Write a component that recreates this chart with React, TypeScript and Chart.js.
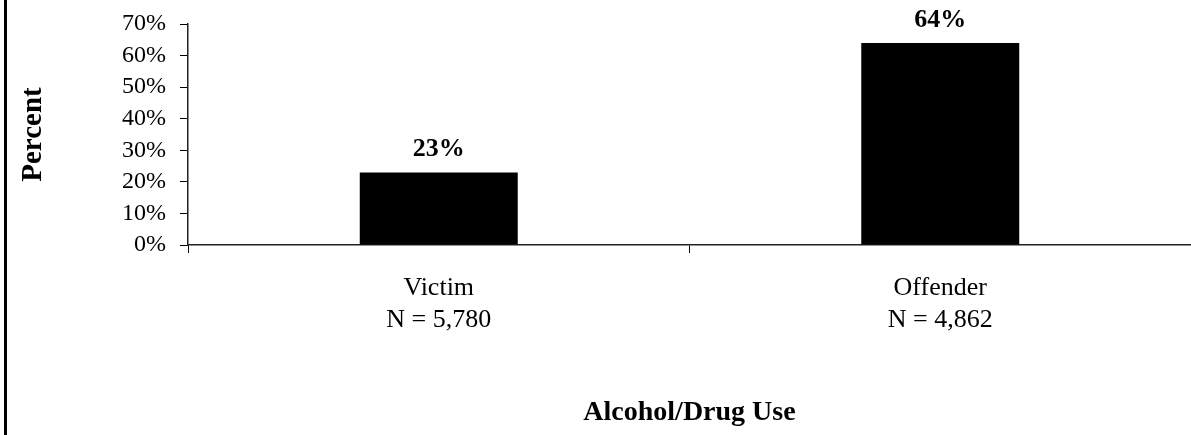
import React, { useEffect, useRef } from "react";
import { Chart, registerables } from "chart.js";

Chart.register(...registerables);

const categories: string[][] = [["Victim", "N = 5,780"], ["Offender", "N = 4,862"]];
const percentValues: number[] = [23, 64];
const yTickMax = 70;
const yTickStep = 10;
const yAxisTitle = "Percent";
const xAxisTitle = "Alcohol/Drug Use";

const FONT = "'Liberation Serif', 'Times New Roman', serif";

const valueLabels = {
  id: "valueLabels",
  afterDatasetsDraw(chart: any) {
    const ctx = chart.ctx;
    const meta = chart.getDatasetMeta(0);
    ctx.save();
    ctx.font = `bold 26px ${FONT}`;
    ctx.fillStyle = "#000";
    ctx.textAlign = "center";
    ctx.textBaseline = "alphabetic";
    meta.data.forEach((bar: any, i: number) => {
      ctx.fillText(`${percentValues[i]}%`, bar.x, bar.y - 16);
    });
    ctx.restore();
  },
};

export default function App() {
  const ref = useRef<HTMLCanvasElement>(null);
  useEffect(() => {
    document.body.style.margin = "0";
    const chart = new Chart(ref.current!, {
      type: "bar",
      data: {
        labels: categories,
        datasets: [
          {
            data: percentValues,
            backgroundColor: "#000",
            borderColor: "#333",
            borderWidth: 0,
            categoryPercentage: 1,
            barPercentage: 0.315,
          },
        ],
      },
      options: {
        animation: false,
        responsive: false,
        maintainAspectRatio: false,
        layout: { padding: { top: 0, right: 0, bottom: 0, left: 0 } },
        plugins: { legend: { display: false }, tooltip: { enabled: false } },
        scales: {
          x: {
            grid: {
              offset: true,
              drawOnChartArea: false,
              drawTicks: true,
              tickLength: 8,
              color: "#000",
            },
            border: { display: true, color: "#222", width: 1.5 },
            ticks: {
              color: "#000",
              font: { family: FONT, size: 26, lineHeight: 1.23 },
              padding: 19,
              maxRotation: 0,
              autoSkip: false,
            },
            title: {
              display: true,
              text: xAxisTitle,
              color: "#000",
              font: { family: FONT, size: 28, weight: "bold" },
              padding: { top: 0, bottom: 5 },
            },
            afterFit(scale: any) {
              scale.height = 190;
            },
          },
          y: {
            min: 0,
            max: yTickMax,
            grid: {
              drawOnChartArea: false,
              drawTicks: true,
              tickLength: 8,
              color: "#000",
            },
            border: { display: true, color: "#222", width: 1.5 },
            ticks: {
              stepSize: yTickStep,
              autoSkip: false,
              color: "#000",
              font: { family: FONT, size: 24, lineHeight: 1.2 },
              padding: 14,
              callback: (v: any) => `${v}%`,
            },
            title: {
              display: true,
              text: yAxisTitle,
              color: "#000",
              font: { family: FONT, size: 29, weight: "bold" },
              padding: { top: 16, bottom: 0 },
            },
            afterFit(scale: any) {
              scale.width = 188;
              scale.paddingTop = 24;
            },
          },
        },
      },
      plugins: [valueLabels],
    });
    return () => chart.destroy();
  }, []);
  return (
    <div style={{ position: "relative", width: 1191, height: 435, background: "#fff" }}>
      <div style={{ position: "absolute", left: 4, top: 0, width: 3, height: 435, background: "#000" }} />
      <canvas ref={ref} width={1191} height={435} style={{ display: "block" }} />
    </div>
  );
}
